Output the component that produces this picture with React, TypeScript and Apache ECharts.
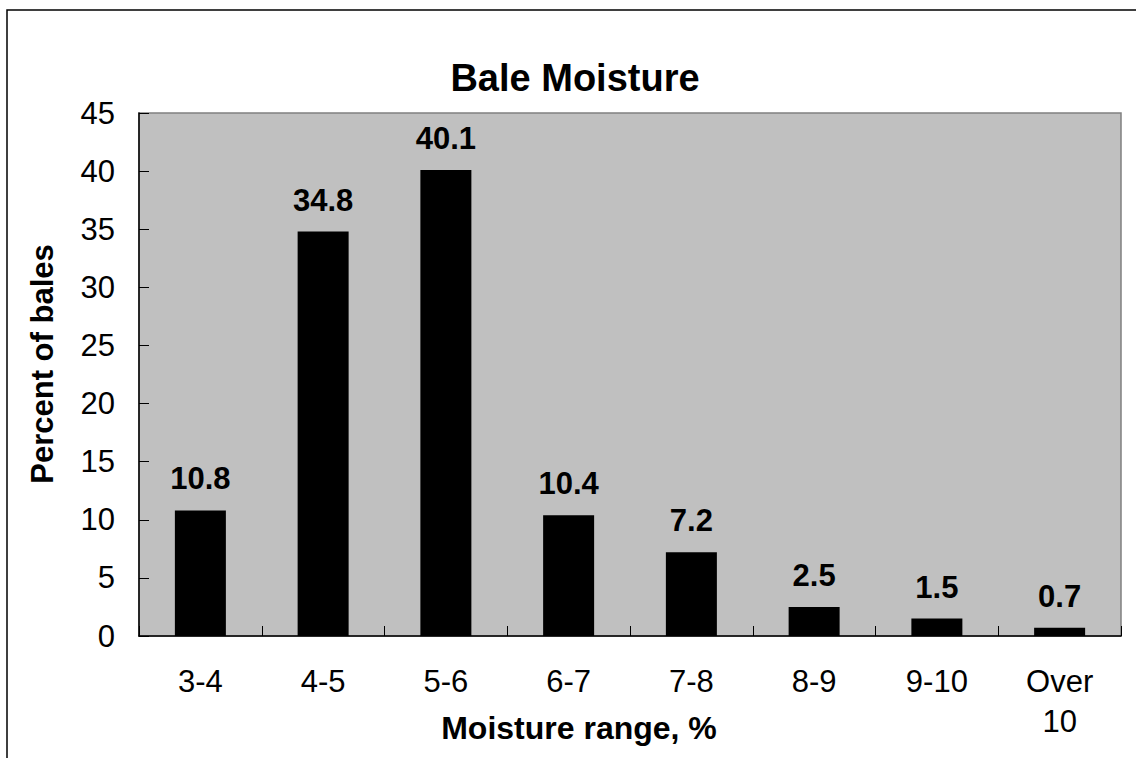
import React, { useEffect, useRef } from "react";
import * as echarts from "echarts";

const title = "Bale Moisture";
const xAxisTitle = "Moisture range, %";
const yAxisTitle = "Percent of bales";
const categories = ["3-4", "4-5", "5-6", "6-7", "7-8", "8-9", "9-10", "Over 10"];
const percentValues = [10.8, 34.8, 40.1, 10.4, 7.2, 2.5, 1.5, 0.7];
const yMin = 0;
const yMax = 45;
const yStep = 5;

const FONT = "'Liberation Sans', Arial, Helvetica, sans-serif";

export default function App() {
  const ref = useRef<HTMLDivElement>(null);
  useEffect(() => {
    if (!ref.current) return;
    const chart = echarts.init(ref.current, null, { renderer: "svg" });
    chart.setOption({
      animation: false,
      backgroundColor: "#ffffff",
      grid: {
        left: 139,
        top: 113,
        right: 15,
        bottom: 122,
        show: true,
        backgroundColor: "#C0C0C0",
        borderColor: "#808080",
        borderWidth: 1.5,
      },
      graphic: [
        {
          type: "rect",
          shape: { x: 7, y: 10, width: 1400, height: 1000 },
          style: { fill: "none", stroke: "#000", lineWidth: 1.5 },
          silent: true,
        },
        {
          type: "text",
          x: 575,
          y: 78,
          style: {
            text: title,
            textAlign: "center",
            textVerticalAlign: "middle",
            font: `bold 38px ${FONT}`,
            fill: "#000",
          },
        },
        {
          type: "text",
          x: 579,
          y: 728,
          style: {
            text: xAxisTitle,
            textAlign: "center",
            textVerticalAlign: "middle",
            font: `bold 32px ${FONT}`,
            fill: "#000",
          },
        },
        {
          type: "text",
          x: 42,
          y: 364,
          rotation: Math.PI / 2,
          style: {
            text: yAxisTitle,
            textAlign: "center",
            textVerticalAlign: "middle",
            font: `bold 31px ${FONT}`,
            fill: "#000",
          },
        },
      ],
      xAxis: {
        type: "category",
        data: categories,
        axisLine: { show: true, lineStyle: { color: "#000", width: 1.5 } },
        axisTick: { show: true, inside: true, length: 10, lineStyle: { color: "#000", width: 1 } },
        axisLabel: {
          color: "#000",
          fontSize: 31,
          fontFamily: FONT,
          margin: 25,
          lineHeight: 40,
          interval: 0,
          formatter: (v: string) => v.replace(" ", "\n"),
        },
        splitLine: { show: false },
      },
      yAxis: {
        type: "value",
        min: yMin,
        max: yMax,
        interval: yStep,
        axisLine: { show: true, lineStyle: { color: "#000", width: 1.5 } },
        axisTick: { show: true, inside: true, length: 10, lineStyle: { color: "#000", width: 1 } },
        axisLabel: { color: "#000", fontSize: 31, fontFamily: FONT, margin: 24 },
        splitLine: { show: false },
      },
      series: [
        {
          type: "bar",
          data: percentValues,
          barWidth: 51,
          itemStyle: { color: "#000" },
          label: {
            show: true,
            position: "top",
            distance: 16,
            color: "#000",
            fontSize: 31,
            fontWeight: "bold",
            fontFamily: FONT,
          },
        },
      ],
    });
    return () => chart.dispose();
  }, []);
  return (
    <div
      ref={ref}
      style={{ position: "fixed", left: 0, top: 0, width: 1136, height: 758, overflow: "hidden" }}
    />
  );
}
